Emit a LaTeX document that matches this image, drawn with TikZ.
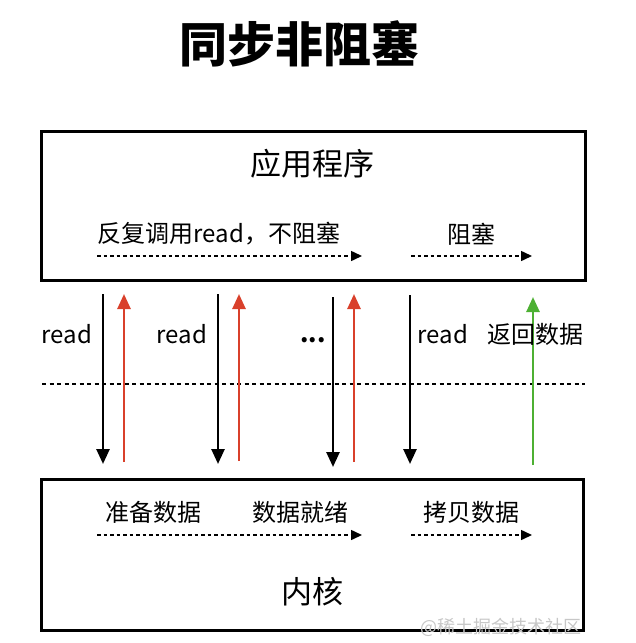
\documentclass[tikz,border=0pt]{standalone}
\usepackage{fontspec}
\setmainfont{Noto Sans CJK SC}
\usetikzlibrary{arrows.meta}
\definecolor{myred}{HTML}{D9402B}
\definecolor{mygreen}{HTML}{4DB033}
\tikzset{
  box/.style={draw=black, line width=3pt},
  lbl/.style={font=\fontsize{24}{26}\selectfont, inner sep=0pt},
  big/.style={font=\fontsize{31}{34}\selectfont, inner sep=0pt},
  flow/.style={dashed, dash pattern=on 3.5pt off 3pt, line width=1.5pt, -{Triangle[width=10pt,length=11pt]}},
  callarr/.style={line width=2.6pt, -{Triangle[width=13pt,length=15pt]}},
  retred/.style={line width=2.6pt, draw=myred, -{Triangle[width=13pt,length=15pt,fill=myred]}},
  retgreen/.style={line width=2.6pt, draw=mygreen, -{Triangle[width=13pt,length=15pt,fill=mygreen]}},
}
\begin{document}
\begin{tikzpicture}[x=1pt,y=-1pt]
\useasboundingbox (0,0) rectangle (636,643);
\node[font=\fontsize{48}{52}\selectfont\bfseries, inner sep=0pt] (title) at (299,44) {同步非阻塞};
% boxes
\draw[box] (41,131) rectangle (585,280);
\draw[box] (41,479) rectangle (583,630);
\node[big] (app) at (312,164) {应用程序};
\node[big] (kern) at (312,592) {内核};
% app flows
\node[lbl] (t1) at (219,234) {反复调用read，不阻塞};
\node[lbl] (t2) at (471,234) {阻塞};
\coordinate (a1s) at (97,256); \coordinate (a1e) at (362,256);
\coordinate (a2s) at (411,256); \coordinate (a2e) at (532,256);
\draw[flow] (a1s) -- (a1e);
\draw[flow] (a2s) -- (a2e);
% kernel flows
\node[lbl] (k1) at (153,512) {准备数据};
\node[lbl] (k2) at (300,512) {数据就绪};
\node[lbl] (k3) at (471,512) {拷贝数据};
\coordinate (b1s) at (97,535); \coordinate (b1e) at (362,535);
\coordinate (b2s) at (411,535); \coordinate (b2e) at (532,535);
\draw[flow] (b1s) -- (b1e);
\draw[flow] (b2s) -- (b2e);
% separator
\coordinate (sl) at (42,384); \coordinate (sr) at (585,384);
\draw[dashed, dash pattern=on 4pt off 3.5pt, line width=1.4pt] (sl) -- (sr);
% vertical arrows
\coordinate (d1t) at (103,294); \coordinate (d1b) at (103,464);
\coordinate (u1b) at (124,462); \coordinate (u1t) at (124,294);
\coordinate (d2t) at (218,294); \coordinate (d2b) at (218,464);
\coordinate (u2b) at (239,461); \coordinate (u2t) at (239,294);
\coordinate (d3t) at (333,297); \coordinate (d3b) at (333,467);
\coordinate (u3b) at (354,462); \coordinate (u3t) at (354,294);
\coordinate (d4t) at (410,295); \coordinate (d4b) at (410,464);
\coordinate (u5b) at (533,465); \coordinate (u5t) at (533,297);
\draw[callarr] (d1t) -- (d1b);
\draw[retred] (u1b) -- (u1t);
\draw[callarr] (d2t) -- (d2b);
\draw[retred] (u2b) -- (u2t);
\draw[callarr] (d3t) -- (d3b);
\draw[retred] (u3b) -- (u3t);
\draw[callarr] (d4t) -- (d4b);
\draw[retgreen] (u5b) -- (u5t);
% labels
\node[lbl] (r1) at (67,334) {read};
\node[lbl] (r2) at (182,334) {read};
\node[lbl, font=\fontsize{24}{26}\selectfont\bfseries] (dots) at (313,340) {...};
\node[lbl] (r4) at (443,334) {read};
\node[lbl] (ret) at (535,334) {返回数据};
% watermark
\node[font=\fontsize{18}{20}\selectfont, text=black!22, inner sep=0pt] (wm) at (501,627) {@稀土掘金技术社区};
\end{tikzpicture}
\end{document}
